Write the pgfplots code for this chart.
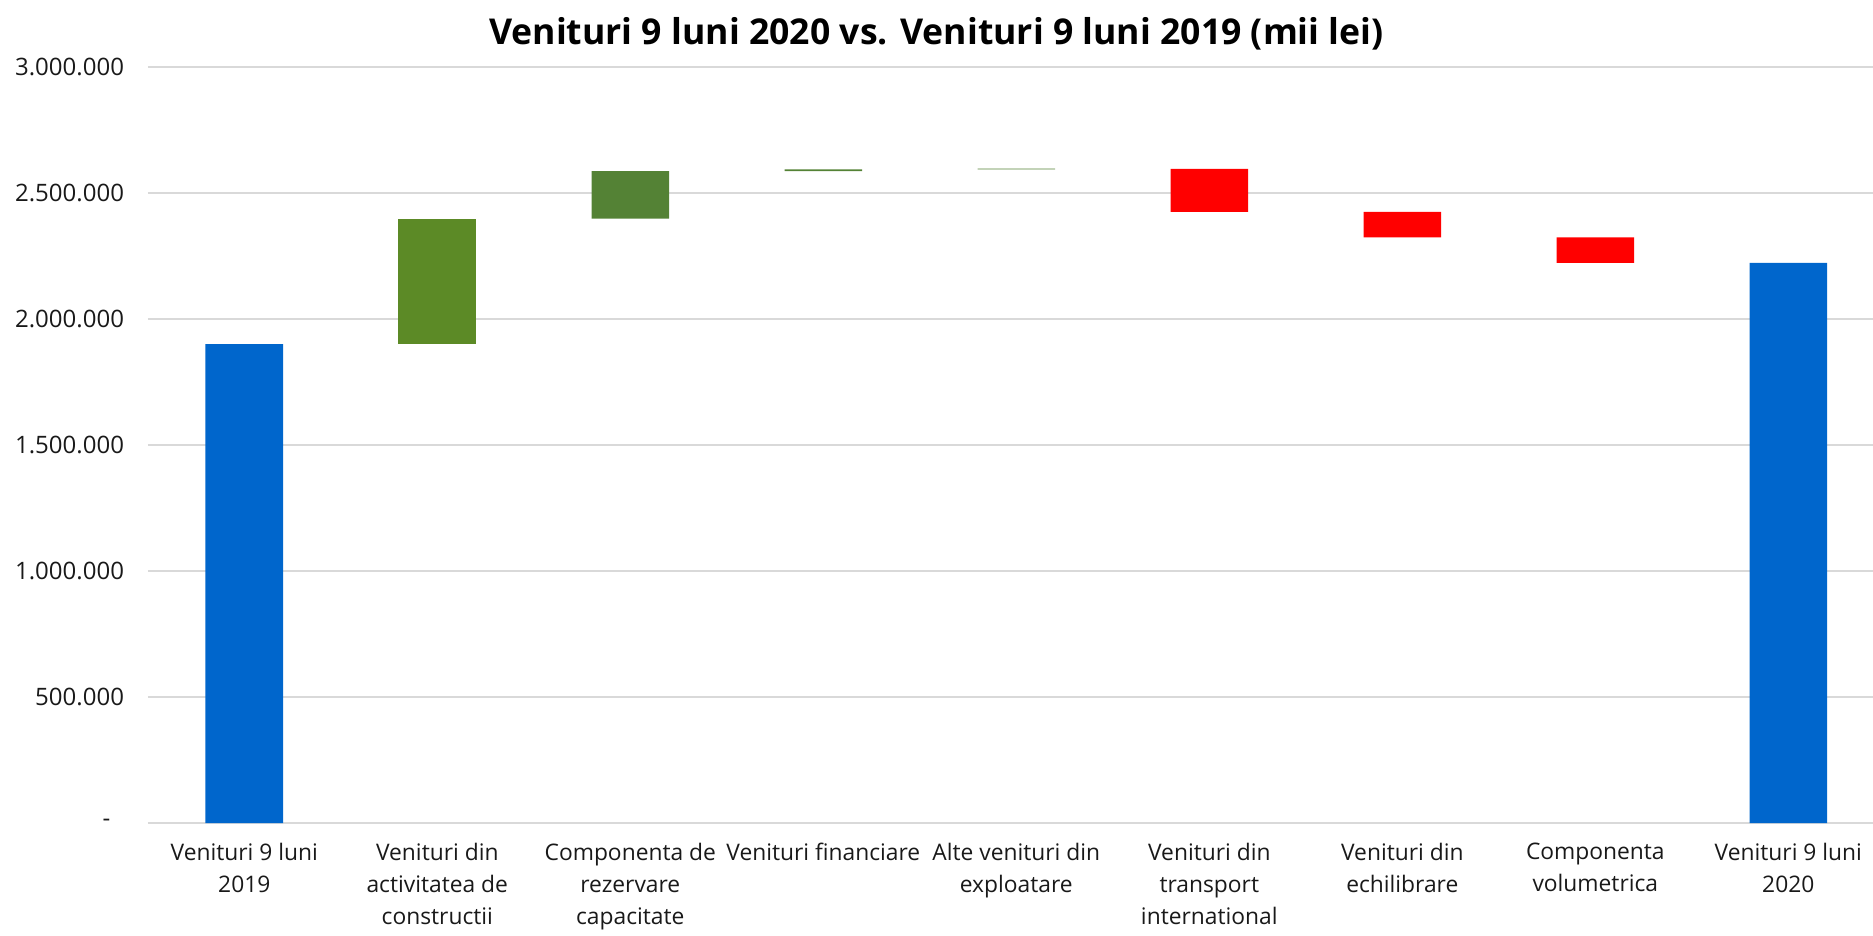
\documentclass[border=0pt]{standalone}
\usepackage{fontspec}
\setmainfont{Open Sans}
\usepackage{pgfplots}
\usepackage{pgfplotstable}
\pgfplotsset{compat=1.18}
\definecolor{cblue}{HTML}{0066CC}
\definecolor{cgreenA}{HTML}{5C8A26}
\definecolor{cgreenB}{HTML}{548235}
\definecolor{cred}{HTML}{FF0000}
\definecolor{cgrid}{HTML}{D9D9D9}
\pgfplotstableread{
x base blue gA gB red
0 0       1900000 0      0      0
1 1900000 0       498000 0      0
2 2398000 0       0      189000 0
3 2587000 0       0      7000   0
4 2594000 0       0      3000   0
5 2425000 0       0      0      171000
6 2324000 0       0      0      101000
7 2223000 0       0      0      101000
8 0       2223000 0      0      0
}\wf
\begin{document}
\begin{tikzpicture}
\path[use as bounding box] (-73.5bp,-56.5bp) rectangle (863bp,411.5bp);
\begin{scope}
\clip (-73.5bp,-56.5bp) rectangle (863bp,411.5bp);
\begin{axis}[
  at={(0.4bp,0)}, anchor=south west,
  scale only axis, width=868.5bp, height=378bp,
  ybar stacked, bar width=38.8bp,
  xmin=-0.5, xmax=8.5, ymin=0, ymax=3000000,
  xtick=data,
  xticklabels={{Venituri 9 luni\\2019},{Venituri din\\activitatea de\\constructii},{Componenta de\\rezervare\\capacitate},{Venituri financiare},{Alte venituri din\\exploatare},{Venituri din\\transport\\international},{Venituri din\\echilibrare},{Componenta\\volumetrica},{Venituri 9 luni\\2020}},
  xticklabel style={align=center, font=\fontsize{11.4bp}{16.1bp}\selectfont, text=black!90, yshift=-6.5bp},
  ytick={0,500000,1000000,1500000,2000000,2500000,3000000},
  yticklabels={{-\hphantom{0}},{500.000},{1.000.000},{1.500.000},{2.000.000},{2.500.000},{3.000.000}},
  yticklabel style={font=\fontsize{12bp}{14bp}\selectfont, text=black!90, xshift=-8.4bp},
  scaled y ticks=false,
  major tick length=0pt,
  axis line style={draw=none},
  ymajorgrids, grid style={cgrid, line width=0.9bp},
  clip=false,
]
\addplot[fill=none, draw=none] table[x=x, y=base] {\wf};
\addplot[fill=cblue, draw=none] table[x=x, y=blue] {\wf};
\addplot[fill=cgreenA, draw=none] table[x=x, y=gA] {\wf};
\addplot[fill=cgreenB, draw=none] table[x=x, y=gB] {\wf};
\addplot[fill=cred, draw=none] table[x=x, y=red] {\wf};
\end{axis}
\end{scope}
\node[font=\bfseries\fontsize{17.8bp}{21bp}\selectfont] at (394.75bp,394.7bp) {Venituri 9 luni 2020 vs. Venituri 9 luni 2019 (mii lei)};
\end{tikzpicture}
\end{document}
